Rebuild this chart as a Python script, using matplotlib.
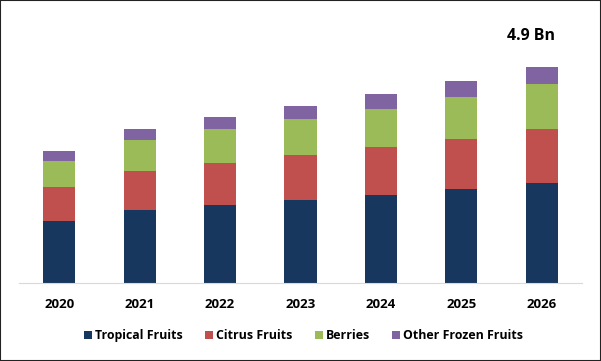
import matplotlib.pyplot as plt
from matplotlib.patches import Rectangle
import numpy as np

years = ['2020', '2021', '2022', '2023', '2024', '2025', '2026']
tropical = [1.41, 1.65, 1.77, 1.88, 1.99, 2.13, 2.27]
citrus = [0.77, 0.89, 0.96, 1.02, 1.10, 1.14, 1.23]
berries = [0.59, 0.70, 0.77, 0.82, 0.86, 0.95, 1.02]
other = [0.22, 0.25, 0.27, 0.30, 0.34, 0.36, 0.38]
labels = ['Tropical Fruits', 'Citrus Fruits', 'Berries', 'Other Frozen Fruits']
colors = ['#17375E', '#C0504D', '#9BBB59', '#8064A2']

plt.rcParams['font.family'] = ['Open Sans', 'DejaVu Sans']

fig = plt.figure(figsize=(6.01, 3.61), dpi=100)
ax = fig.add_axes([0.0316, 0.217, 0.9368, 0.731])

x = np.arange(len(years))
bottom = np.zeros(len(years))
for vals, lab, col in zip([tropical, citrus, berries, other], labels, colors):
    ax.bar(x, vals, 0.4, bottom=bottom, color=col, label=lab)
    bottom += np.array(vals)

ax.text(x[-1] - 0.14, bottom[-1] + 0.52, '4.9 Bn', ha='center', va='bottom',
        fontsize=11.5, fontweight='bold')

ax.set_xlim(-0.5, 6.5)
ax.set_ylim(0, 6)
ax.set_xticks(x)
ax.set_xticklabels(years, fontsize=9.5, fontweight='bold')
ax.tick_params(axis='x', length=0, pad=11)
ax.set_yticks([])
for s in ['top', 'right', 'left']:
    ax.spines[s].set_visible(False)
ax.spines['bottom'].set_color('#d9d9d9')

fig.legend(loc='center', bbox_to_anchor=(0.505, 0.07), ncol=4, frameon=False,
           prop={'size': 8.9, 'weight': 'bold'}, handlelength=0.65,
           handleheight=0.65, handletextpad=0.25, columnspacing=1.8)

fig.patches.append(Rectangle((0, 0), 1, 1, transform=fig.transFigure,
                             fill=False, edgecolor='#222222', linewidth=1.5))

fig.savefig('out.png', dpi=100)
